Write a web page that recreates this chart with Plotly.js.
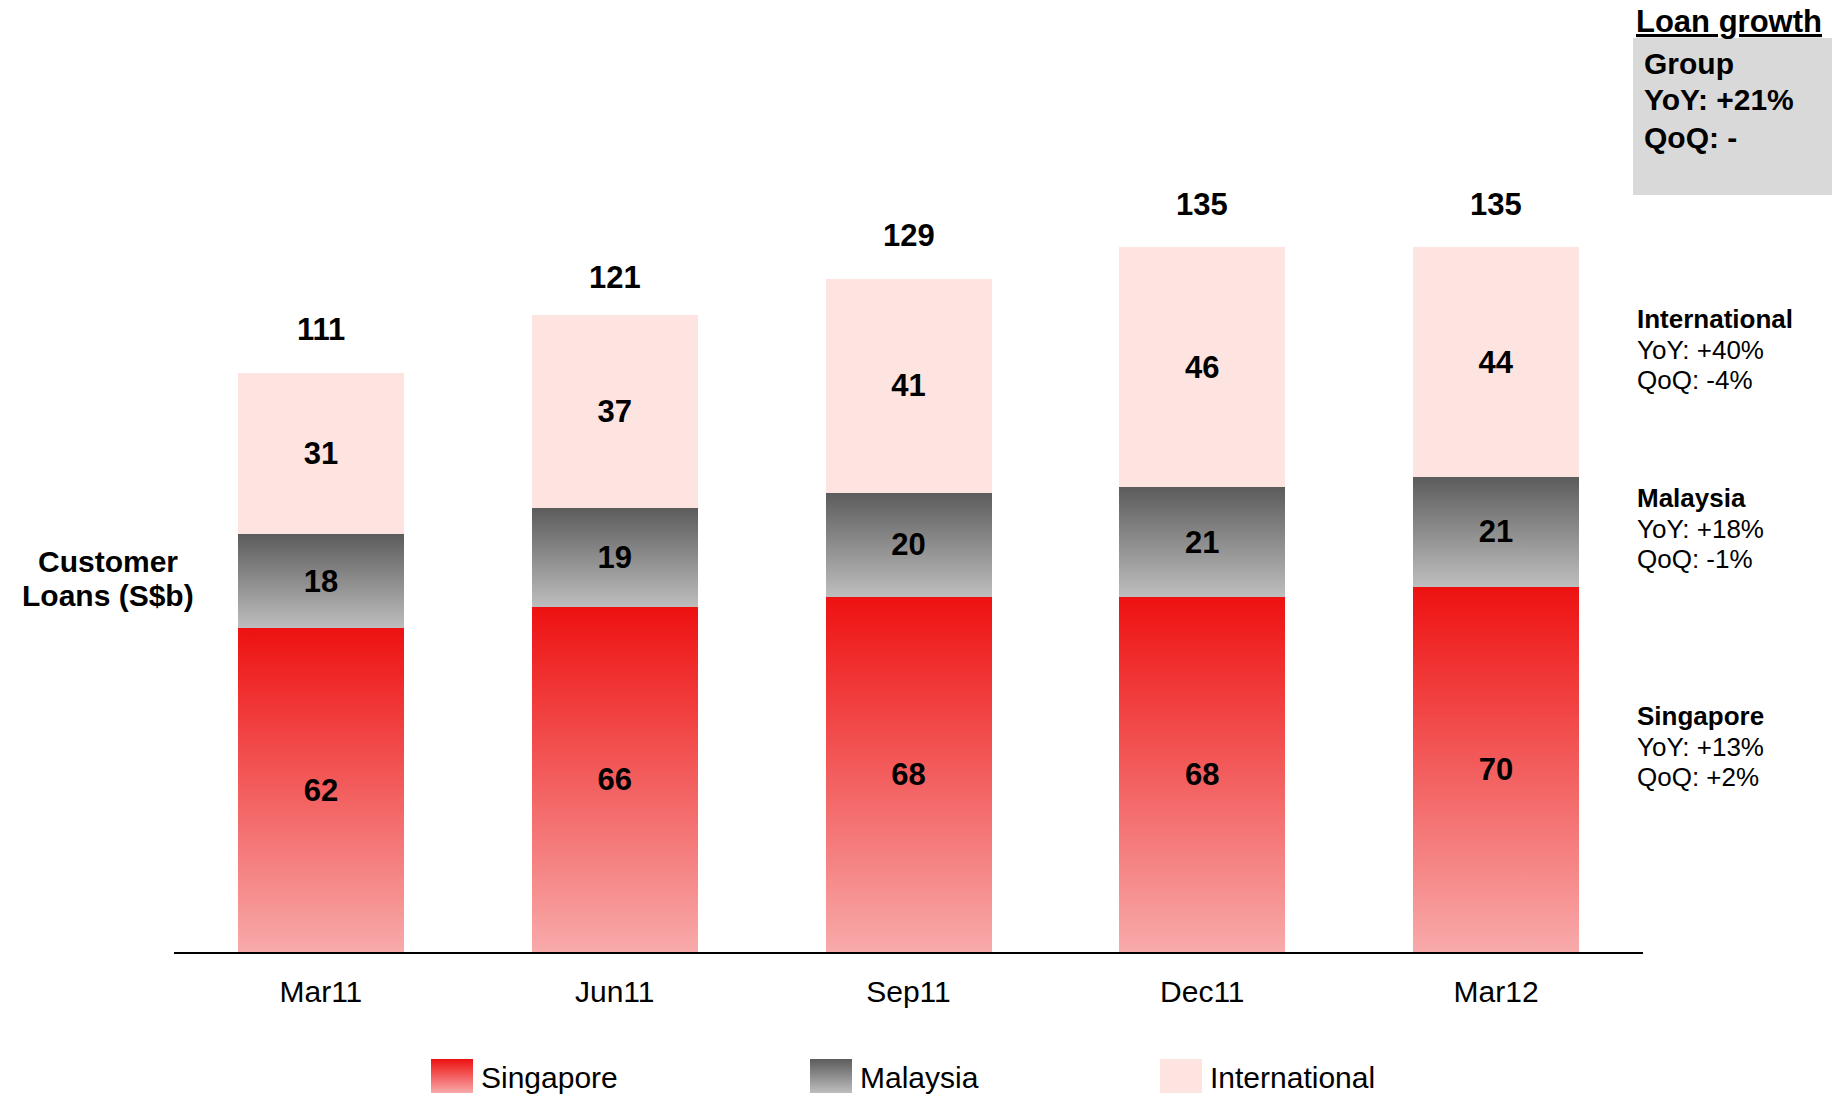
<!DOCTYPE html>
<html><head><meta charset="utf-8">
<script src="https://cdn.plot.ly/plotly-3.0.1.min.js"></script>
<style>html,body{margin:0;padding:0;background:#fff}#chart{width:1832px;height:1095px}</style>
</head><body><div id="chart"></div>
<script>
// ---- data ----
const categories = ['Mar11', 'Jun11', 'Sep11', 'Dec11', 'Mar12'];
const singapore = [62, 66, 68, 68, 70];
const malaysia = [18, 19, 20, 21, 21];
const international = [31, 37, 41, 46, 44];
const totals = [111, 121, 129, 135, 135];
const seriesNames = ['Singapore', 'Malaysia', 'International'];
const growthSegments = ['International', 'Malaysia', 'Singapore'];
const growthYoY = ['+40%', '+18%', '+13%'];
const growthQoQ = ['-4%', '-1%', '+2%'];
const groupTitle = 'Loan growth';
const groupLines = ['Group', 'YoY: +21%', 'QoQ: -'];
const yTitleLines = ['Customer', 'Loans (S$b)'];

// ---- styling ----
const FONT = 'Liberation Sans, Arial, sans-serif';
const W = 1832, H = 1095;
const M = {l: 174, r: 189, t: 169, b: 143, autoexpand: false};
const plotW = W - M.l - M.r, plotH = H - M.t - M.b;
const px = v => (v - M.l) / plotW;          // page x -> paper x
const py = v => (H - M.b - v) / plotH;      // page y -> paper y

const baseColors = ['#F04545', '#8C8C8C', '#FDE4E0'];
const gradients = [
  {id: 'gSing', stops: [[0, '#EE1111'], [1, '#F8AAAA']]},
  {id: 'gMal', stops: [[0, '#5C5C5C'], [1, '#BEBEBE']]},
  {id: 'gInt', stops: [[0, '#FDE4E0'], [1, '#FDE4E0']]}
];
const seriesValues = [singapore, malaysia, international];
const legendIds = ['legend', 'legend2', 'legend3'];

const traces = seriesValues.map((vals, i) => ({
  type: 'bar',
  x: categories,
  y: vals,
  name: seriesNames[i],
  legend: legendIds[i],
  showlegend: true,
  text: vals.map(String),
  textposition: 'inside',
  insidetextanchor: 'middle',
  constraintext: 'none',
  textangle: 0,
  textfont: {family: FONT, size: 31, color: '#000', weight: 'bold'},
  marker: {color: baseColors[i], line: {width: 0}},
  hoverinfo: 'skip'
}));

const annotations = [];
categories.forEach((c, i) => {
  annotations.push({
    x: c, y: totals[i], xref: 'x', yref: 'y', text: String(totals[i]),
    showarrow: false, yshift: 43, yanchor: 'middle',
    font: {family: FONT, size: 31, color: '#000', weight: 'bold'}
  });
});
[561, 595].forEach((yy, i) => annotations.push({
  xref: 'paper', yref: 'paper', x: px(108), y: py(yy), text: yTitleLines[i],
  showarrow: false, xanchor: 'center', yanchor: 'middle',
  font: {family: FONT, size: 30, color: '#000', weight: 'bold'}
}));
const segTop = [319, 498, 716];
growthSegments.forEach((s, i) => {
  const lines = [s, 'YoY: ' + growthYoY[i], 'QoQ: ' + growthQoQ[i]];
  lines.forEach((t, j) => annotations.push({
    xref: 'paper', yref: 'paper', x: px(1635), y: py(segTop[i] + j * 30.5), text: t,
    showarrow: false, xanchor: 'left', yanchor: 'middle',
    font: {family: FONT, size: 26, color: '#000', weight: j === 0 ? 'bold' : 'normal'}
  }));
});
annotations.push({
  xref: 'paper', yref: 'paper', x: px(1634), y: py(21), text: '<u>' + groupTitle + '</u>',
  showarrow: false, xanchor: 'left', yanchor: 'middle',
  font: {family: FONT, size: 31, color: '#000', weight: 'bold'}
});
[63, 100, 137].forEach((yy, j) => annotations.push({
  xref: 'paper', yref: 'paper', x: px(1642), y: py(yy), text: groupLines[j],
  showarrow: false, xanchor: 'left', yanchor: 'middle',
  font: {family: FONT, size: 30, color: '#000', weight: 'bold'}
}));

const legendX = [423, 802, 1152];
const legendCommon = i => ({
  orientation: 'h', x: px(legendX[i]), xanchor: 'left', y: py(1076), yanchor: 'middle',
  font: {family: FONT, size: 30, color: '#000'}, itemwidth: 48, bgcolor: 'rgba(0,0,0,0)',
  borderwidth: 0, visible: true
});

const layout = {
  width: W, height: H, margin: M,
  paper_bgcolor: '#fff', plot_bgcolor: '#fff',
  font: {family: FONT, color: '#000'},
  barmode: 'stack', bargap: 0.435,
  showlegend: true,
  legend: legendCommon(0), legend2: legendCommon(1), legend3: legendCommon(2),
  xaxis: {
    type: 'category', range: [-0.5, 4.5], showline: true, linecolor: '#000', linewidth: 2,
    ticks: '', showgrid: false, zeroline: false, ticklabelstandoff: 12,
    tickfont: {family: FONT, size: 30, color: '#000'}, fixedrange: true
  },
  yaxis: {range: [0, 150], visible: false, showgrid: false, zeroline: false, fixedrange: true},
  shapes: [{
    type: 'rect', xref: 'paper', yref: 'paper', x0: px(1633), x1: px(1832), y0: py(195), y1: py(38),
    fillcolor: '#D9D9D9', line: {width: 0}, layer: 'below'
  }],
  annotations: annotations
};

const NS = 'http://www.w3.org/2000/svg';
const SWATCH = 'M21,17H-21V-17H21Z';
function applyGradients() {
  const gd = document.getElementById('chart');
  const svg = gd.querySelector('.main-svg');
  if (!svg) return;
  if (!document.getElementById(gradients[0].id)) {
    let defs = svg.querySelector('defs');
    if (!defs) { defs = document.createElementNS(NS, 'defs'); svg.insertBefore(defs, svg.firstChild); }
    gradients.forEach(g => {
      const lg = document.createElementNS(NS, 'linearGradient');
      lg.setAttribute('id', g.id);
      lg.setAttribute('x1', '0'); lg.setAttribute('y1', '0');
      lg.setAttribute('x2', '0'); lg.setAttribute('y2', '1');
      g.stops.forEach(([o, c]) => {
        const s = document.createElementNS(NS, 'stop');
        s.setAttribute('offset', o); s.setAttribute('stop-color', c);
        lg.appendChild(s);
      });
      defs.appendChild(lg);
    });
  }
  gd.querySelectorAll('.barlayer .trace').forEach((tg, i) => {
    const want = 'url(#' + gradients[i].id + ')';
    tg.querySelectorAll('.point path').forEach(p => {
      if (!p.style.fill.includes(gradients[i].id)) p.style.fill = want;
    });
  });
  gd.querySelectorAll('g.traces').forEach(item => {
    const t = item.querySelector(':scope > text');
    if (!t) return;
    const idx = seriesNames.indexOf(t.textContent.trim());
    if (idx < 0) return;
    const want = 'url(#' + gradients[idx].id + ')';
    item.querySelectorAll('.legendpoints path').forEach(p => {
      if (p.getAttribute('d') !== SWATCH) p.setAttribute('d', SWATCH);
      if (!p.style.fill.includes(gradients[idx].id)) p.style.fill = want;
      if (p.style.stroke !== 'none') p.style.stroke = 'none';
    });
  });
}

const obs = new MutationObserver(() => applyGradients());
obs.observe(document.getElementById('chart'), {childList: true, subtree: true, attributes: true, attributeFilter: ['d', 'style']});

Plotly.newPlot('chart', traces, layout, {staticPlot: true, displayModeBar: false}).then(() => {
  applyGradients();
  let n = 0;
  (function tick() { applyGradients(); if (n++ < 120) requestAnimationFrame(tick); })();
});
</script>
</body></html>
